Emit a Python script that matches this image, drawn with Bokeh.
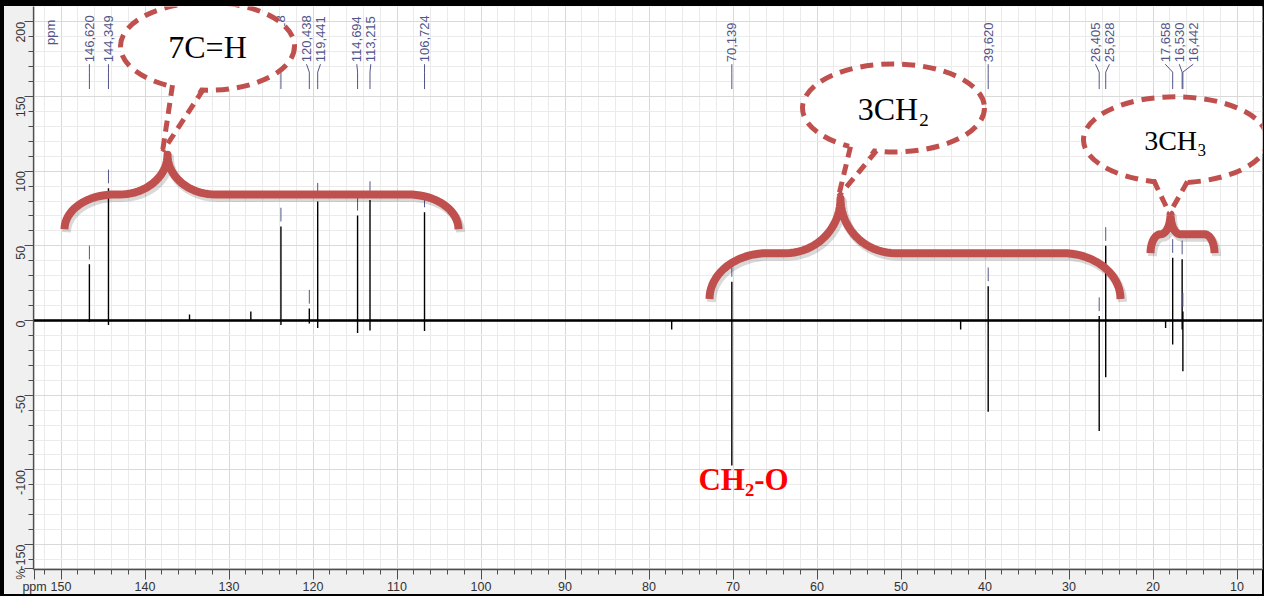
import math
from bokeh.plotting import figure
from bokeh.models import Range1d, FixedTicker
from bokeh.core.properties import value
from bokeh.embed import file_html
from bokeh.resources import INLINE

# ---------------- data ----------------
x_tick_values = [150, 140, 130, 120, 110, 100, 90, 80, 70, 60, 50, 40, 30, 20, 10]
x_tick_labels = ["150", "140", "130", "120", "110", "100", "90", "80", "70", "60", "50", "40", "30", "20", "10"]
y_tick_values = [200, 150, 100, 50, 0, -50, -100, -150]
y_tick_labels = ["200", "150", "100", "50", "0", "-50", "-100", "-150"]
x_unit_label = "ppm"
y_unit_label = "%"

peak_ppm = [146.620, 144.349, 123.818, 120.438, 119.441, 114.694, 113.215, 106.724,
            70.139, 39.620, 26.405, 25.628, 17.658, 16.530, 16.442]
peak_labels = ["146,620", "144,349", "123,818", "120,438", "119,441", "114,694", "113,215", "106,724",
               "70,139", "39,620", "26,405", "25,628", "17,658", "16,530", "16,442"]
peak_top = [37.6, 88.5, 63.0, 8.0, 79.6, 70.3, 80.7, 72.5,
            26.0, 23.0, 3.0, 50.0, 42.0, 41.0, 6.0]
peak_bottom = [-1.0, -3.0, -3.0, -2.0, -5.0, -8.4, -6.6, -7.0,
               -97.0, -61.0, -74.0, -38.0, -16.0, -6.0, -34.0]

minor_ppm = [134.7, 127.4, 77.3, 42.9, 18.5]
minor_val = [4.0, 6.0, -6.0, -6.0, -5.0]

group_texts = ["7C=H", "3CH\u2082", "3CH\u2083"]
assign_text = "CH\u2082-O"

# ---------------- geometry helpers (page pixels -> data) ----------------
W, H = 1264, 596
B_LEFT, B_RIGHT, B_TOP, B_BOTTOM = 33, 2, 6, 24
F_LEFT, F_RIGHT = 8 + B_LEFT, 8 + W - B_RIGHT
F_TOP, F_BOTTOM = 8 + B_TOP, 8 + H - B_BOTTOM
PX_PER_PPM, PX150 = 8.40, 68.5
PX_PER_PCT, PY0 = 1.502, 329.7


def to_ppm(px):
    return 150 - (px - PX150) / PX_PER_PPM


def to_px(ppm):
    return PX150 + (150 - ppm) * PX_PER_PPM


def to_val(py):
    return (PY0 - py) / PX_PER_PCT


p = figure(width=W, height=H, output_backend="svg", toolbar_location=None,
           x_range=Range1d(to_ppm(F_LEFT), to_ppm(F_RIGHT)),
           y_range=Range1d(to_val(F_BOTTOM), to_val(F_TOP)),
           min_border_left=B_LEFT, min_border_right=B_RIGHT,
           min_border_top=B_TOP, min_border_bottom=B_BOTTOM,
           border_fill_color="#f0f0f0", border_fill_alpha=0.0,
           background_fill_color="white",
           styles={"background-color": "#f0f0f0",
                   "box-shadow": "inset 4px 6px 0 0 #000000, inset -2px -2px 0 0 #000000"})
p.outline_line_color = None

# axes: unit labels sit at the low ends of the axes
x_unit_pos = round(to_ppm(F_LEFT + 1), 2)
y_unit_pos = round(to_val(F_BOTTOM - 1), 1)
x_minor = [v for v in range(152, 6, -2)]
y_minor = [v for v in range(200, -170, -10)]
p.xaxis.ticker = FixedTicker(ticks=x_tick_values + [x_unit_pos], minor_ticks=x_minor)
p.yaxis.ticker = FixedTicker(ticks=y_tick_values + [y_unit_pos], minor_ticks=y_minor)
xo = dict(zip(x_tick_values, x_tick_labels))
xo[x_unit_pos] = x_unit_label
yo = dict(zip(y_tick_values, y_tick_labels))
yo[y_unit_pos] = y_unit_label
p.xaxis.major_label_overrides = xo
p.yaxis.major_label_overrides = yo
for ax in (p.xaxis[0], p.yaxis[0]):
    ax.axis_line_color = "#4d4d4d"
    ax.axis_line_width = 1.3
    ax.major_tick_line_color = "#4d4d4d"
    ax.minor_tick_line_color = "#4d4d4d"
    ax.major_tick_in = 0
    ax.minor_tick_in = 0
    ax.major_label_text_font = "Liberation Sans"
    ax.major_label_text_font_size = "12.5px"
    ax.major_label_text_color = "#333333"
p.xaxis.major_tick_out = 10
p.xaxis.minor_tick_out = 5
p.xaxis.major_label_standoff = 0
p.yaxis.major_tick_out = 9
p.yaxis.minor_tick_out = 5
p.yaxis.major_label_standoff = 3
p.yaxis.major_label_orientation = math.pi / 2

for g in (p.xgrid[0], p.ygrid[0]):
    g.grid_line_color = "#d9d9d9"
    g.minor_grid_line_color = "#ebebeb"
    g.grid_line_width = 1
    g.minor_grid_line_width = 1

# ---------------- spectrum ----------------
events = [(peak_ppm[i], [0, peak_top[i], peak_bottom[i], 0]) for i in range(len(peak_ppm))]
events += [(minor_ppm[i], [0, minor_val[i], 0]) for i in range(len(minor_ppm))]
events.sort(key=lambda e: -e[0])
sx, sy = [to_ppm(F_LEFT)], [0.0]
for ppm, vals in events:
    for v in vals:
        sx.append(ppm)
        sy.append(v)
sx.append(to_ppm(F_RIGHT))
sy.append(0.0)
# baseline drawn a little heavier, like the noisy trace of the original
p.line([sx[0], sx[-1]], [0.0, 0.0], line_color="#111111", line_width=2.6)
p.line(sx, sy, line_color="black", line_width=1.4)

# ---------------- peak labels ----------------
lab_color = "#515688"
p.segment(x0=peak_ppm, y0=[t + 3.3 for t in peak_top], x1=peak_ppm, y1=[t + 12.5 for t in peak_top],
          line_color=lab_color, line_width=1)


def spread_labels(xs, gap):
    order = sorted(range(len(xs)), key=lambda i: xs[i])

    def place(g):
        m = sum(xs[i] for i in g) / len(g)
        s = m - (len(g) - 1) * gap / 2
        return s, s + (len(g) - 1) * gap

    groups = []
    for i in order:
        groups.append([i])
        while len(groups) > 1:
            s1, e1 = place(groups[-2])
            s2, e2 = place(groups[-1])
            if s2 - e1 < gap:
                groups[-2] = groups[-2] + groups[-1]
                groups.pop()
            else:
                break
    out = [0.0] * len(xs)
    for g in groups:
        s, _ = place(g)
        for k, i in enumerate(g):
            out[i] = s + k * gap
    return out


peak_px = [to_px(v) for v in peak_ppm]
label_px = spread_labels(peak_px, 14.0)
label_ppm = [to_ppm(v) for v in label_px]
y_text = to_val(70)
p.text(x=label_ppm, y=[y_text] * len(label_ppm), text=peak_labels, angle=math.pi / 2,
       text_font=value("Liberation Sans"), text_font_size="13px", text_color=lab_color,
       text_align="left", text_baseline="middle")
p.text(x=[to_ppm(58)], y=[to_val(40)], text=["ppm"], angle=math.pi / 2,
       text_font=value("Liberation Sans"), text_font_size="13px", text_color=lab_color,
       text_align="center", text_baseline="middle")
cx, cy = [], []
for lp, pp in zip(label_ppm, peak_ppm):
    cx.append([lp, pp, pp])
    cy.append([to_val(72), to_val(80), to_val(97)])
p.multi_line(cx, cy, line_color=lab_color, line_width=1)

# ---------------- annotation braces & callouts ----------------
red = "#c0504d"


def brace(x0, x1, xc, y_end, y_h, y_cusp, r_end, r_mid, n=20):
    ry1 = y_end - y_h
    ry2 = y_h - y_cusp
    pts = []
    for i in range(n + 1):
        t = math.pi / 2 * i / n
        pts.append((x0 + r_end - r_end * math.cos(t), y_end - ry1 * math.sin(t)))
    for i in range(n + 1):
        t = math.pi / 2 * i / n
        pts.append((xc - r_mid + r_mid * math.sin(t), y_cusp + ry2 * math.cos(t)))
    for i in range(n + 1):
        t = math.pi / 2 * i / n
        pts.append((xc + r_mid - r_mid * math.cos(t), y_cusp + ry2 * math.sin(t)))
    for i in range(n + 1):
        t = math.pi / 2 * i / n
        pts.append((x1 - r_end + r_end * math.sin(t), y_end - ry1 * math.cos(t)))
    return pts


braces = [
    (72, 466, 175, 238, 203, 163, 50, 48),
    (717, 1128, 848, 308, 262, 207, 58, 55),
    (1158, 1222, 1178, 262, 243, 223, 10, 10),
]
for b in braces:
    pts = brace(*b)
    p.line([to_ppm(x + 2) for x, _ in pts], [to_val(y + 3) for _, y in pts],
           line_color="#000000", line_alpha=0.15, line_width=9, line_join="round")
    p.line([to_ppm(x) for x, _ in pts], [to_val(y) for _, y in pts],
           line_color=red, line_width=8, line_join="round", line_cap="butt")

callouts = [
    ((215, 54), (87, 44), (180, 93), (211, 97), (170, 160), "32px"),
    ((901, 116), (91, 44), (858, 155), (884, 159), (846, 205), "32px"),
    ((1183, 148), (92, 43), (1161, 188.5), (1195, 190), (1177, 222), "28px"),
]
for (c, r, b1, b2, tip, fs), txt in zip(callouts, group_texts):
    p.ellipse(x=[to_ppm(c[0])], y=[to_val(c[1])], width=2 * r[0], height=2 * r[1],
              width_units="screen", height_units="screen",
              fill_color="white", line_color=red, line_width=5, line_dash="13 8")
    p.patch([to_ppm(b1[0]), to_ppm(b2[0]), to_ppm(tip[0])],
            [to_val(b1[1] - 7), to_val(b2[1] - 7), to_val(tip[1])],
            fill_color="white", line_color=None)
    p.multi_line([[to_ppm(b1[0]), to_ppm(tip[0])], [to_ppm(b2[0]), to_ppm(tip[0])]],
                 [[to_val(b1[1]), to_val(tip[1])], [to_val(b2[1]), to_val(tip[1])]],
                 line_color=red, line_width=5, line_dash="11 7")
    p.text(x=[to_ppm(c[0])], y=[to_val(c[1] + 1)], text=[txt],
           text_font=value("Liberation Serif"), text_font_size=fs, text_color="black",
           text_align="center", text_baseline="middle")

p.text(x=[to_ppm(751)], y=[to_val(490)], text=[assign_text],
       text_font=value("Liberation Serif"), text_font_size="31px", text_font_style="bold",
       text_color="#ff0000", text_align="center", text_baseline="middle")

open("out.html", "w").write(file_html(p, INLINE))
